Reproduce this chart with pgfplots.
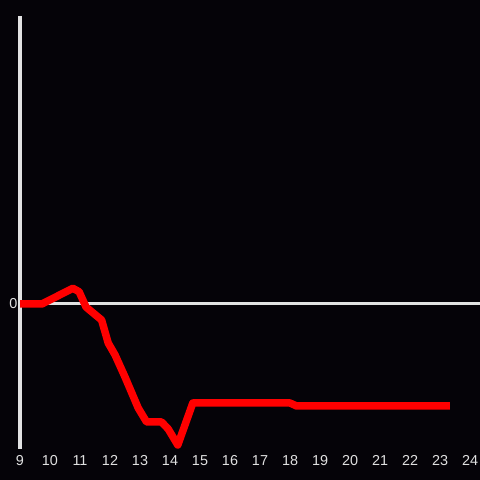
\documentclass[border=0pt]{standalone}
\usepackage{fontspec}
\setmainfont{Liberation Sans}
\usepackage{pgfplots}
\pgfplotsset{compat=1.18}
\definecolor{bg}{HTML}{050308}
\definecolor{axl}{HTML}{E2E2E2}
\definecolor{tkl}{HTML}{E0E0E0}
\begin{document}
\begin{tikzpicture}
\useasboundingbox (0,0) rectangle (480bp,480bp);
\fill[bg] (0,0) rectangle (480bp,480bp);
\begin{axis}[
  at={(20bp,31bp)}, anchor=south west,
  scale only axis, width=460bp, height=433bp,
  xmin=9, xmax=24.333, ymin=-145, ymax=288,
  axis line style={draw=none},
  major tick length=0pt,
  xtick={9,...,24}, ytick={0},
  ticklabel style={font=\fontsize{14.4bp}{16bp}\selectfont, text=tkl},
  xticklabel style={yshift=-3bp},
  yticklabel style={xshift=1bp},
  /pgf/number format/assume math mode=true,
  clip=false,
]
\draw[axl, line width=3bp] (axis cs:9,0) -- (axis cs:24.333,0);
\draw[axl, line width=3bp] (axis cs:9,-145) -- (axis cs:9,288);
\addplot[color=red, line width=7.5bp, line join=round, mark=none] coordinates {
(9,0) (9.73,0) (10.76,15.7) (10.97,12.3) (11.2,-3) (11.72,-16) (11.94,-39)
(12.17,-51) (12.5,-73) (12.94,-104) (13.22,-118) (13.72,-118) (13.94,-125)
(14.26,-141) (14.76,-99) (18.0,-99) (18.22,-102) (23.33,-102)
};
\end{axis}
\end{tikzpicture}
\end{document}
